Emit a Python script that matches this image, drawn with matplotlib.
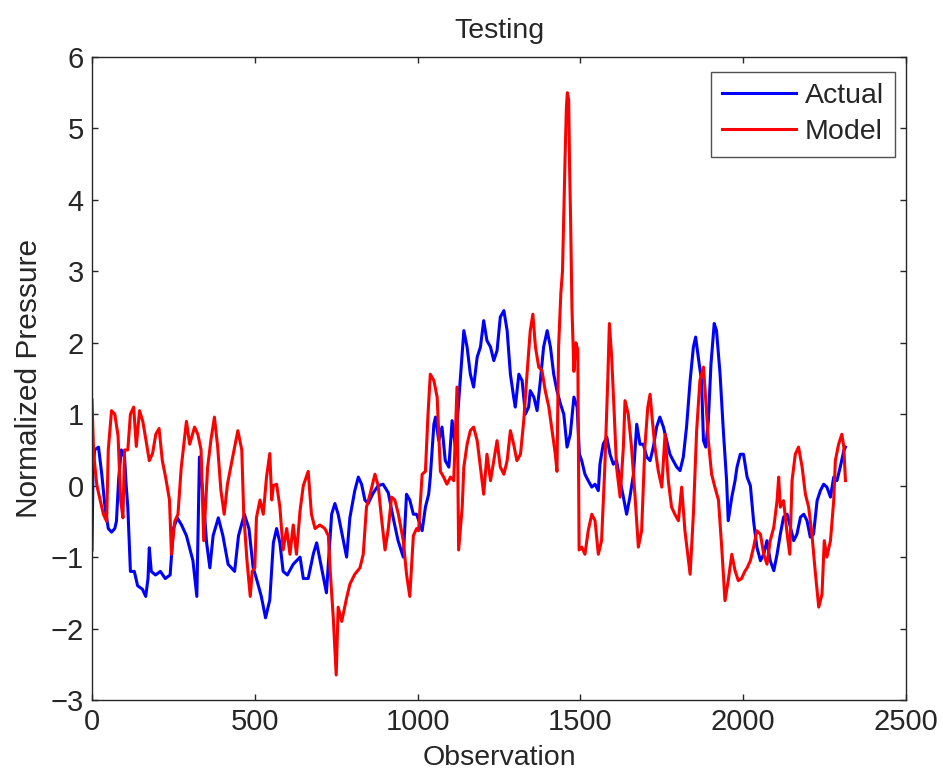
import matplotlib
matplotlib.use("Agg")
import matplotlib.pyplot as plt

# ---- data ----
actual_x = [0, 3, 8, 20, 30, 40, 50, 60, 70, 75, 82, 90, 100, 105, 110, 118, 130, 140, 155, 165,
            172, 176, 182, 195, 210, 225, 240, 250, 262, 275, 290, 310, 322, 330, 342, 352, 362, 372,
            388, 402, 418, 438, 450, 468, 482, 495, 505, 520, 533, 546, 557, 567, 577, 587, 600, 618,
            639, 649, 664, 680, 690, 705, 720, 736, 746, 756, 772, 782, 792, 807, 818, 828, 838, 848,
            864, 879, 894, 910, 925, 940, 956, 966, 976, 987, 997, 1014, 1024, 1034, 1039, 1050, 1055,
            1065, 1075, 1085, 1096, 1106, 1116, 1131, 1142, 1152, 1162, 1172, 1183, 1193, 1203, 1213,
            1224, 1234, 1244, 1254, 1265, 1275, 1285, 1295, 1300, 1311, 1321, 1331, 1341, 1346, 1357,
            1367, 1377, 1387, 1398, 1408, 1418, 1428, 1439, 1449, 1459, 1469, 1480, 1490, 1497, 1504,
            1514, 1524, 1535, 1545, 1555, 1560, 1570, 1581, 1591, 1601, 1611, 1622, 1632, 1642, 1652,
            1663, 1673, 1683, 1693, 1704, 1714, 1724, 1734, 1744, 1755, 1765, 1775, 1785, 1796, 1806,
            1816, 1826, 1837, 1847, 1854, 1862, 1872, 1878, 1885, 1893, 1901, 1911, 1918, 1929, 1939,
            1949, 1954, 1965, 1975, 1981, 1991, 2001, 2012, 2022, 2032, 2042, 2053, 2063, 2073, 2083,
            2094, 2104, 2114, 2124, 2135, 2145, 2155, 2165, 2176, 2186, 2196, 2206, 2216, 2227, 2237,
            2247, 2257, 2268, 2278, 2288, 2298, 2309, 2314]
actual_y = [-0.9, 0.2, 0.5, 0.54, 0.16, -0.3, -0.6, -0.65, -0.6, -0.5, 0.1, 0.5, 0.4, 0.0, -0.3, -1.2,
            -1.2, -1.4, -1.45, -1.55, -1.3, -0.87, -1.2, -1.25, -1.2, -1.3, -1.25, -0.6, -0.45, -0.55,
            -0.7, -1.05, -1.55, 0.4, -0.2, -0.8, -1.15, -0.7, -0.45, -0.7, -1.1, -1.2, -0.7, -0.4, -0.6,
            -1.15, -1.3, -1.55, -1.85, -1.6, -0.8, -0.6, -0.8, -1.2, -1.25, -1.1, -1.0, -1.3, -1.3,
            -0.95, -0.8, -1.15, -1.5, -0.4, -0.25, -0.4, -0.77, -1.0, -0.45, -0.07, 0.12, 0.02, -0.2,
            -0.25, -0.1, 0.0, 0.02, -0.1, -0.45, -0.77, -1.0, -0.12, -0.2, -0.4, -0.4, -0.63, -0.3,
            -0.12, 0.12, 0.86, 0.96, 0.63, 0.82, 0.35, 0.26, 0.91, 0.54, 1.47, 2.17, 1.94, 1.56, 1.38,
            1.8, 1.94, 2.31, 2.03, 1.94, 1.75, 1.89, 2.36, 2.45, 2.17, 1.56, 1.24, 1.1, 1.56, 1.47, 1.0,
            1.1, 1.33, 1.24, 1.05, 1.47, 1.94, 2.17, 1.94, 1.56, 1.33, 1.14, 1.0, 0.54, 0.72, 1.24, 1.1,
            0.44, 0.35, 0.16, 0.07, -0.02, 0.02, -0.07, 0.3, 0.58, 0.68, 0.44, 0.3, 0.35, 0.07, -0.16,
            -0.4, -0.16, 0.16, 0.86, 0.58, 0.58, 0.4, 0.35, 0.54, 0.82, 0.96, 0.82, 0.63, 0.44, 0.35,
            0.26, 0.21, 0.4, 0.82, 1.47, 1.94, 2.08, 1.8, 1.47, 0.63, 0.54, 0.91, 1.7, 2.27, 2.17, 1.56,
            0.77, 0.07, -0.49, -0.16, 0.07, 0.26, 0.44, 0.44, 0.12, 0.0, -0.5, -0.86, -1.05, -0.96,
            -0.77, -1.05, -1.19, -0.96, -0.68, -0.44, -0.4, -0.58, -0.77, -0.68, -0.44, -0.4, -0.49,
            -0.72, -0.68, -0.21, -0.07, 0.02, -0.02, -0.16, 0.12, 0.07, 0.26, 0.49, 0.54]

model_x = [0, 5, 15, 25, 35, 45, 50, 60, 70, 80, 88, 95, 100, 110, 118, 128, 136, 146, 156, 166, 176,
           186, 196, 206, 216, 226, 238, 244, 254, 264, 274, 290, 300, 315, 325, 335, 343, 355, 365,
           376, 386, 396, 406, 416, 432, 448, 460, 466, 476, 486, 492, 500, 505, 516, 526, 536, 546,
           552, 557, 567, 577, 587, 598, 608, 618, 628, 639, 649, 664, 674, 685, 700, 715, 726, 731,
           741, 750, 756, 767, 782, 792, 807, 823, 833, 843, 854, 869, 879, 889, 900, 910, 920, 930,
           941, 956, 966, 976, 987, 997, 1003, 1014, 1024, 1032, 1039, 1050, 1060, 1070, 1080, 1090,
           1101, 1111, 1121, 1126, 1137, 1142, 1152, 1162, 1172, 1183, 1193, 1203, 1213, 1224, 1234,
           1244, 1254, 1265, 1275, 1285, 1295, 1305, 1316, 1326, 1336, 1346, 1354, 1362, 1372, 1382,
           1392, 1403, 1413, 1423, 1428, 1433, 1440, 1445, 1449, 1453, 1457, 1460, 1464, 1467, 1470,
           1474, 1480, 1486, 1492, 1496, 1504, 1514, 1524, 1535, 1545, 1555, 1565, 1575, 1584, 1589,
           1596, 1604, 1611, 1622, 1632, 1637, 1647, 1657, 1668, 1678, 1688, 1698, 1707, 1714, 1721,
           1729, 1739, 1750, 1760, 1770, 1780, 1790, 1801, 1811, 1821, 1837, 1847, 1857, 1867, 1878,
           1888, 1893, 1903, 1913, 1924, 1934, 1944, 1954, 1965, 1975, 1985, 1995, 2005, 2012, 2022,
           2032, 2042, 2053, 2063, 2073, 2083, 2094, 2104, 2109, 2114, 2124, 2135, 2143, 2150, 2160,
           2170, 2181, 2191, 2201, 2211, 2222, 2232, 2242, 2249, 2257, 2268, 2278, 2283, 2293, 2303,
           2309, 2314]
model_y = [1.2, 0.45, 0.0, -0.2, -0.4, -0.5, 0.5, 1.05, 1.0, 0.7, -0.2, -0.45, 0.5, 0.5, 1.0, 1.1,
           0.55, 1.05, 0.9, 0.63, 0.35, 0.45, 0.72, 0.8, 0.35, 0.12, -0.2, -0.96, -0.5, -0.4, 0.25,
           0.9, 0.58, 0.82, 0.72, 0.5, -0.77, 0.25, 0.63, 0.96, 0.54, -0.07, -0.4, 0.02, 0.4, 0.77,
           0.5, -0.4, -1.05, -1.55, -1.2, -1.15, -0.45, -0.2, -0.4, 0.12, 0.45, -0.2, 0.0, 0.02, -0.3,
           -0.9, -0.6, -0.96, -0.55, -0.96, -0.35, 0.0, 0.2, -0.4, -0.6, -0.55, -0.6, -0.7, -1.15,
           -1.85, -2.65, -1.7, -1.9, -1.57, -1.38, -1.24, -1.15, -0.96, -0.3, -0.12, 0.16, 0.0, -0.45,
           -0.9, -0.6, -0.16, -0.2, -0.4, -0.77, -1.24, -1.55, -0.7, -0.6, -0.63, 0.16, 0.2, 1.0, 1.56,
           1.47, 1.24, 0.2, 0.12, 0.02, 0.12, 0.07, 1.38, -0.9, -0.3, 0.26, 0.58, 0.77, 0.82, 0.63,
           0.26, -0.12, 0.44, 0.07, 0.35, 0.63, 0.26, 0.16, 0.35, 0.77, 0.58, 0.35, 0.44, 0.91, 1.56,
           2.17, 2.4, 1.94, 1.66, 1.61, 1.33, 1.1, 0.77, 0.44, 0.2, 1.94, 2.7, 3.0, 3.8, 4.6, 5.3, 5.5,
           5.4, 4.4, 3.7, 2.5, 1.6, 2.0, 1.9, -0.9, -0.86, -0.96, -0.63, -0.4, -0.49, -0.96, -0.77,
           0.26, 1.47, 2.27, 1.8, 1.0, 0.26, -0.16, 0.54, 1.19, 1.0, 0.54, -0.16, -0.86, -0.63, 0.54,
           1.1, 1.28, 0.91, 0.54, 0.21, -0.02, 0.72, 0.07, -0.3, -0.4, -0.49, -0.02, -0.63, -1.24,
           -0.4, 0.77, 1.47, 1.66, 1.0, 0.63, 0.16, -0.02, -0.2, -0.86, -1.61, -1.33, -0.96, -1.19,
           -1.33, -1.3, -1.2, -1.15, -1.05, -0.86, -0.63, -0.68, -0.96, -1.1, -0.77, -0.58, -0.21,
           0.12, -0.3, -0.21, -0.68, -0.96, 0.07, 0.44, 0.54, 0.26, -0.12, -0.3, -0.68, -1.24, -1.7,
           -1.52, -0.77, -1.0, -0.77, -0.21, 0.35, 0.58, 0.72, 0.54, 0.07]

x_ticks = [0, 500, 1000, 1500, 2000, 2500]
y_ticks = [-3, -2, -1, 0, 1, 2, 3, 4, 5, 6]

# ---- style ----
plt.rcParams['font.family'] = ['Liberation Sans', 'DejaVu Sans']
txt = '#262626'

fig = plt.figure(figsize=(9.43, 7.78), dpi=100)
ax = fig.add_axes([92/943, 1-700/778, (906-92)/943, (700-57)/778])

ax.plot(actual_x, actual_y, color='#0000ff', lw=2.2, label='Actual')
ax.plot(model_x, model_y, color='#ff0000', lw=2.2, label='Model')

ax.set_xlim(0, 2500)
ax.set_ylim(-3, 6)
ax.set_xticks(x_ticks)
ax.set_yticks(y_ticks)
ax.tick_params(direction='in', length=4, width=1, top=True, right=True,
               labelsize=21, colors=txt, pad=6)
for s in ax.spines.values():
    s.set_color(txt)
    s.set_linewidth(1.0)

ax.set_title('Testing', fontsize=20.5, color=txt, pad=14)
ax.set_xlabel('Observation', fontsize=20.5, color=txt, labelpad=6)
ax.set_ylabel('Normalized Pressure', fontsize=21.5, color=txt, labelpad=5)

leg = ax.legend(loc='upper right', bbox_to_anchor=((895-92)/814, 1-(72-57)/643),
                borderaxespad=0, fontsize=20.5, frameon=True, fancybox=False,
                edgecolor=txt, handlelength=2.6, handletextpad=0.3,
                borderpad=0.4, labelspacing=0.35)
leg.get_frame().set_linewidth(1.0)
for t in leg.get_texts():
    t.set_color(txt)

fig.savefig('out.png', dpi=100)
